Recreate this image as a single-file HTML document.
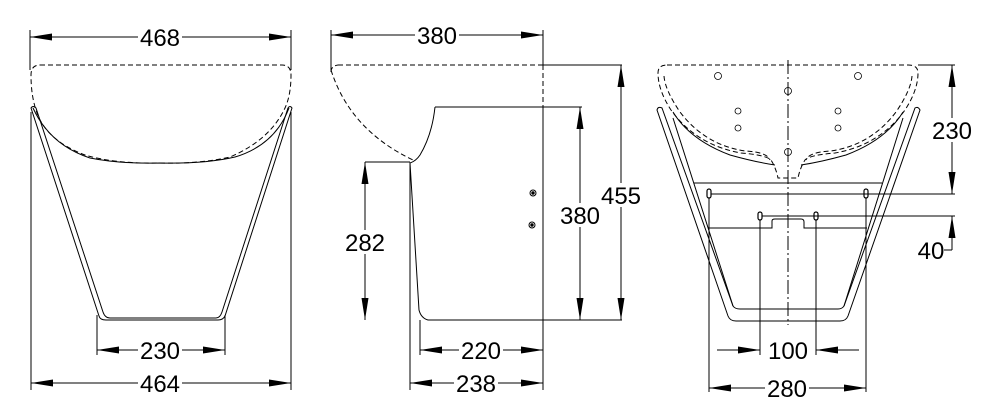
<!DOCTYPE html>
<html><head><meta charset="utf-8"><style>
html,body{margin:0;padding:0;background:#fff;}
svg{display:block;}
text{font-family:"Liberation Sans",sans-serif;font-size:24px;fill:#000;}
</style></head><body>
<svg width="999" height="419" viewBox="0 0 999 419" xmlns="http://www.w3.org/2000/svg">
<defs>
<marker id="a" viewBox="0 0 22 7" refX="22" refY="3.5" markerWidth="22" markerHeight="7" markerUnits="userSpaceOnUse" orient="auto-start-reverse">
<path d="M0,0 L22,3.5 L0,7 Z" fill="#000"/></marker>
</defs>
<g fill="none" stroke="#000" stroke-width="1">
<!-- LEFT VIEW -->
<path d="M30,30 V70 M291,30 V70"/>
<line x1="30" y1="37" x2="291" y2="37" marker-start="url(#a)" marker-end="url(#a)"/>
<path d="M40,65 H282 Q291,65 291,75 Q291,95 285,108 Q270,140 230,157 Q200,164 160,163 Q115,164 85,155 Q45,140 36,110 Q31,95 31,75 Q31,65 40,65 Z" stroke-dasharray="5,3"/>
<path d="M33,108 Q50,145 90,158 Q120,164 160,163 Q205,164 235,157 Q275,145 289,108"/>
<path d="M31,108 Q33,105 36,108 L103,312 Q105,318 110,318 L216,318 Q220,318 222,312 L288,108 Q290,105 292,108 L225,316 Q223,320 218,320 L106,320 Q100,320 99,316 Z"/>
<path d="M97,315 V355 M225,315 V355"/>
<line x1="97" y1="350" x2="225" y2="350" marker-start="url(#a)" marker-end="url(#a)"/>
<path d="M31,112 V390 M291,112 V390"/>
<line x1="31" y1="383" x2="291" y2="383" marker-start="url(#a)" marker-end="url(#a)"/>

<!-- MIDDLE VIEW -->
<path d="M331,30 V70 M543,30 V65"/>
<line x1="331" y1="35" x2="543" y2="35" marker-start="url(#a)" marker-end="url(#a)"/>
<path d="M543,65 V107" stroke-dasharray="5,3"/>
<path d="M338,65 H543 M331,72 Q331,66 338,65" stroke-dasharray="5,3"/>
<path d="M331,70 Q350,130 413,160" stroke-dasharray="5,3"/>
<path d="M543,65 H622"/>
<path d="M543,107 H582 M435,107 H543 V320"/>
<path d="M435,107 Q432,135 420,155 Q416,161 410,163 L419,310 Q421,318 428,320 H622"/>
<path d="M365,162 H410"/>
<line x1="365" y1="162" x2="365" y2="320" marker-start="url(#a)" marker-end="url(#a)"/>
<line x1="580" y1="107" x2="580" y2="320" marker-start="url(#a)" marker-end="url(#a)"/>
<line x1="621" y1="65" x2="621" y2="320" marker-start="url(#a)" marker-end="url(#a)"/>
<circle cx="533" cy="193" r="3"/><circle cx="532" cy="225" r="3"/>
<circle cx="533" cy="193" r="1.2" fill="#000"/><circle cx="532" cy="225" r="1.2" fill="#000"/>
<path d="M420,320 V355 M543,320 V390 M410,163 V390"/>
<line x1="420" y1="350" x2="543" y2="350" marker-start="url(#a)" marker-end="url(#a)"/>
<line x1="410" y1="383" x2="543" y2="383" marker-start="url(#a)" marker-end="url(#a)"/>

<!-- RIGHT VIEW -->
<path d="M788,60 V325" stroke-dasharray="14,3,2,3"/>
<path d="M667,65 H908 Q918,65 918,73 Q918,90 905,110 Q880,145 835,153 Q810,155 805,160 Q800,168 798,178 H778 Q776,168 771,160 Q766,155 741,153 Q696,145 671,110 Q658,90 658,73 Q658,65 667,65 Z" stroke-dasharray="5,3"/>
<path d="M664,76 Q665,90 680,112 Q705,145 745,151 Q767,152 770,160 M912,76 Q911,90 896,112 Q871,145 831,151 Q809,152 806,160" stroke-dasharray="5,3"/>
<path d="M918,65 H955"/>
<g stroke-width="0.8">
<circle cx="718" cy="76" r="3.5"/><circle cx="858" cy="76" r="3.5"/><circle cx="788" cy="91" r="3.5"/>
<circle cx="738" cy="111" r="3"/><circle cx="838" cy="111" r="3"/><circle cx="738" cy="128" r="3"/><circle cx="838" cy="128" r="3"/><circle cx="788" cy="152" r="3.5"/>
</g>
<path d="M673,112 Q690,140 730,155 Q755,162 775,165 M903,112 Q886,140 846,155 Q821,162 801,165"/>
<path d="M657,110 Q658,106 662,108 L733,306 Q735,309 740,309 L838,309 Q842,309 844,306 L915,108 Q918,106 920,110 L848,316 Q846,321 840,321 L736,321 Q730,321 728,316 Z"/>
<path d="M673,118 L733,306 M903,118 L844,306"/>
<path d="M694,183 H882 M708,228 H772 V221 Q772,219 775,219 H801 Q804,219 804,222 V228 H867"/>
<g stroke-width="1.2">
<rect x="707" y="189" width="4" height="9" rx="2"/><rect x="864" y="189" width="4" height="9" rx="2"/>
<rect x="758" y="212" width="4" height="8" rx="2"/><rect x="814" y="212" width="4" height="8" rx="2"/>
</g>
<path d="M711,194 H955 M762,216 H955"/>
<line x1="952" y1="65" x2="952" y2="194" marker-start="url(#a)" marker-end="url(#a)"/>
<line x1="952" y1="250" x2="952" y2="216" marker-end="url(#a)"/>
<path d="M952,250 H944"/>
<path d="M760,220 V355 M816,220 V355 M709,198 V392 M866,198 V392"/>
<line x1="717" y1="350" x2="760" y2="350" marker-end="url(#a)"/>
<line x1="859" y1="350" x2="816" y2="350" marker-end="url(#a)"/>
<line x1="709" y1="388" x2="866" y2="388" marker-start="url(#a)" marker-end="url(#a)"/>
</g>
<g text-anchor="middle">
<rect x="138" y="25" width="44" height="24" fill="#fff"/><text x="160" y="46">468</text>
<rect x="138" y="338" width="44" height="24" fill="#fff"/><text x="160" y="359">230</text>
<rect x="138" y="371" width="44" height="24" fill="#fff"/><text x="160" y="392">464</text>
<rect x="415" y="23" width="44" height="24" fill="#fff"/><text x="437" y="44">380</text>
<rect x="343" y="230" width="44" height="24" fill="#fff"/><text x="365" y="251">282</text>
<rect x="558" y="203" width="44" height="24" fill="#fff"/><text x="580" y="224">380</text>
<rect x="599" y="183" width="44" height="24" fill="#fff"/><text x="621" y="204">455</text>
<rect x="459" y="338" width="44" height="24" fill="#fff"/><text x="481" y="359">220</text>
<rect x="454" y="371" width="44" height="24" fill="#fff"/><text x="476" y="392">238</text>
<rect x="930" y="118" width="44" height="24" fill="#fff"/><text x="952" y="139">230</text>
<text x="931" y="259">40</text>
<rect x="766" y="338" width="44" height="24" fill="#fff"/><text x="788" y="359">100</text>
<rect x="765" y="376" width="44" height="24" fill="#fff"/><text x="787" y="397">280</text>
</g>
</svg>
</body></html>
